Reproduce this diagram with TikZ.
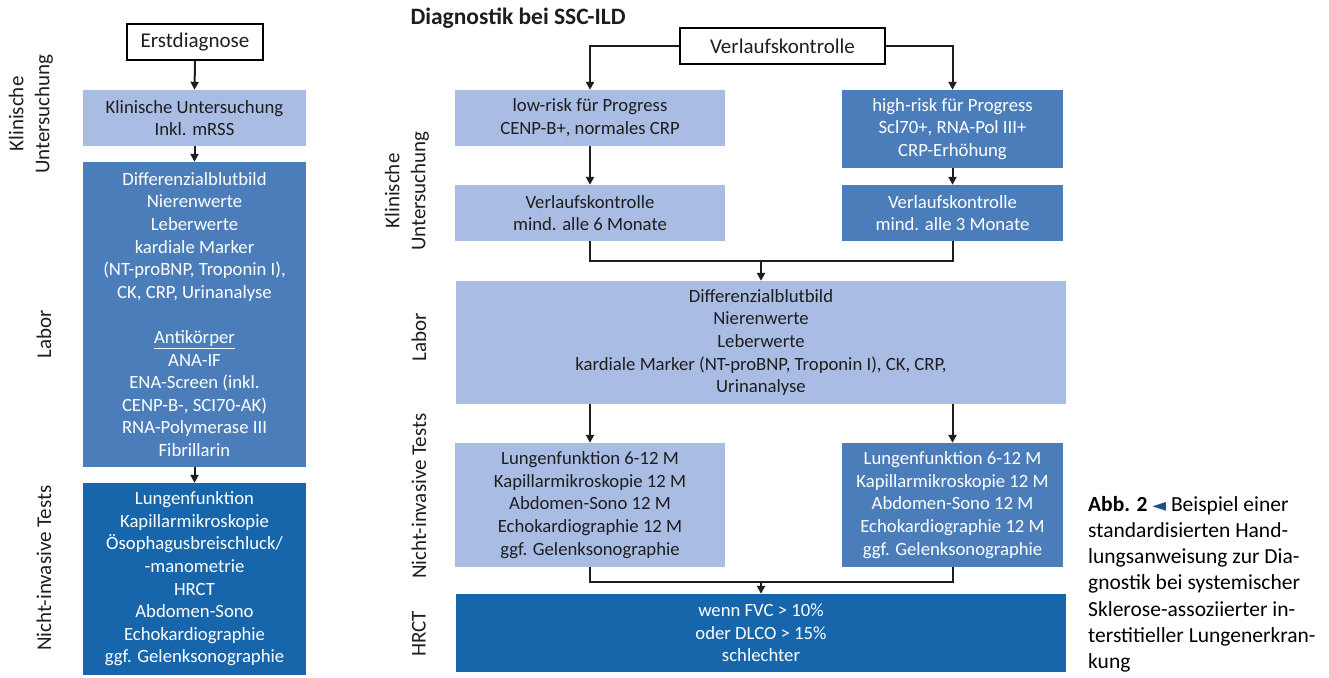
\documentclass[tikz,border=0pt]{standalone}
\usepackage{fontspec}
\setmainfont{Carlito}
\newfontfamily\symfont{DejaVu Sans}
\usetikzlibrary{arrows.meta}
\definecolor{lightb}{HTML}{A9BCE3}
\definecolor{midb}{HTML}{4A7DBA}
\definecolor{darkb}{HTML}{1766AC}
\definecolor{txt}{HTML}{1E1E1E}
\definecolor{capblue}{HTML}{1F4F8F}
\begin{document}
\begin{tikzpicture}[x=1pt,y=-1pt,
 box/.style={rectangle, inner sep=0pt, align=center, font=\fontsize{18.7}{22.6}\selectfont},
 lbox/.style={box, fill=lightb, text=txt},
 mbox/.style={box, fill=midb, text=white},
 dbox/.style={box, fill=darkb, text=white},
 wbox/.style={rectangle, draw=black, line width=2pt, fill=white, inner sep=0pt, font=\fontsize{21}{24}\selectfont, text=txt},
 arr/.style={line width=2pt, draw=txt, -{Triangle[length=8pt,width=8pt]}},
 con/.style={line width=2pt, draw=txt},
 side/.style={rotate=90, align=center, font=\fontsize{21}{26}\selectfont, text=txt},
]
\useasboundingbox (0,0) rectangle (1329,677);
% ---------- left column ----------
\node[wbox, minimum width=136pt, minimum height=36pt] (erst) at (195,42) {Erstdiagnose};
\node[lbox, minimum width=223pt, minimum height=56pt] (lk) at (194.5,118) {Klinische Untersuchung\\Inkl. mRSS};
\node[mbox, minimum width=223pt, minimum height=305pt] (ll) at (194.5,314.5) {Differenzialblutbild\\Nierenwerte\\Leberwerte\\kardiale Marker\\(NT-proBNP, Troponin I),\\CK, CRP, Urinanalyse\\[22.6pt]\underline{Antikörper}\\ANA-IF\\ENA-Screen (inkl.\\CENP-B-, SCI70-AK)\\RNA-Polymerase III\\Fibrillarin};
\node[dbox, minimum width=223pt, minimum height=192pt] (ln) at (194.5,579) {Lungenfunktion\\Kapillarmikroskopie\\Ösophagusbreischluck/\\-manometrie\\HRCT\\Abdomen-Sono\\Echokardiographie\\ggf. Gelenksonographie};
\draw[arr] (erst.south) -- (lk.north);
\draw[arr] (lk.south) -- (ll.north);
\draw[arr] (ll.south) -- (ln.north);
\node[side] (s1) at (31,114) {Klinische\\Untersuchung};
\node[side] (s2) at (44,334) {Labor};
\node[side] (s3) at (44,568) {Nicht-invasive Tests};
% ---------- middle ----------
\node[anchor=west, font=\bfseries\fontsize{23.5}{26}\selectfont, text=txt] (title) at (407,18) {Diagnostik bei SSC-ILD};
\node[wbox, minimum width=205pt, minimum height=36pt] (vk) at (782.5,46) {Verlaufskontrolle};
\node[lbox, minimum width=270pt, minimum height=56pt] (low) at (590,118) {low-risk für Progress\\CENP-B+, normales CRP};
\node[mbox, minimum width=221pt, minimum height=78pt] (high) at (952.5,129) {high-risk für Progress\\Scl70+, RNA-Pol III+\\CRP-Erhöhung};
\node[lbox, minimum width=270pt, minimum height=56pt] (v6) at (590,213) {Verlaufskontrolle\\mind. alle 6 Monate};
\node[mbox, minimum width=221pt, minimum height=56pt] (v3) at (952.5,213) {Verlaufskontrolle\\mind. alle 3 Monate};
\node[lbox, minimum width=610pt, minimum height=123pt] (lab) at (761,342.5) {Differenzialblutbild\\Nierenwerte\\Leberwerte\\kardiale Marker (NT-proBNP, Troponin I), CK, CRP,\\Urinanalyse};
\node[lbox, minimum width=270pt, minimum height=124pt] (nl) at (590,505) {Lungenfunktion 6-12 M\\Kapillarmikroskopie 12 M\\Abdomen-Sono 12 M\\Echokardiographie 12 M\\ggf. Gelenksonographie};
\node[mbox, minimum width=221pt, minimum height=124pt] (nr) at (952.5,505) {Lungenfunktion 6-12 M\\Kapillarmikroskopie 12 M\\Abdomen-Sono 12 M\\Echokardiographie 12 M\\ggf. Gelenksonographie};
\node[dbox, minimum width=610pt, minimum height=78pt] (hr) at (761,633) {wenn FVC > 10\%\\oder DLCO > 15\%\\schlechter};
\coordinate (j1) at (761,261);
\coordinate (j2) at (761,582);
\draw[arr] (vk.west) -| (low.north);
\draw[arr] (vk.east) -| (high.north);
\draw[arr] (low.south) -- (v6.north);
\draw[arr] (high.south) -- (v3.north);
\draw[con] (v6.south) |- (j1) -| (v3.south);
\draw[arr] (j1) -- (lab.north);
\draw[arr] (lab.south -| nl.north) -- (nl.north);
\draw[arr] (lab.south -| nr.north) -- (nr.north);
\draw[con] (nl.south) |- (j2) -| (nr.south);
\draw[arr] (j2) -- (hr.north);
\node[side] (m1) at (407,191) {Klinische\\Untersuchung};
\node[side] (m2) at (419,337) {Labor};
\node[side] (m3) at (419,496) {Nicht-invasive Tests};
\node[side] (m4) at (419,634) {HRCT};
% ---------- caption ----------
\node[anchor=north west, align=left, inner sep=0pt, font=\fontsize{21.5}{26.2}\selectfont, text=black] (cap) at (1088,496) {\textbf{Abb. 2} {\symfont\fontsize{18}{18}\selectfont\color{capblue}◄} Beispiel einer\\standardisierten Hand-\\lungsanweisung zur Dia-\\gnostik bei systemischer\\Sklerose-assoziierter in-\\terstitieller Lungenerkran-\\kung};
\end{tikzpicture}
\end{document}
